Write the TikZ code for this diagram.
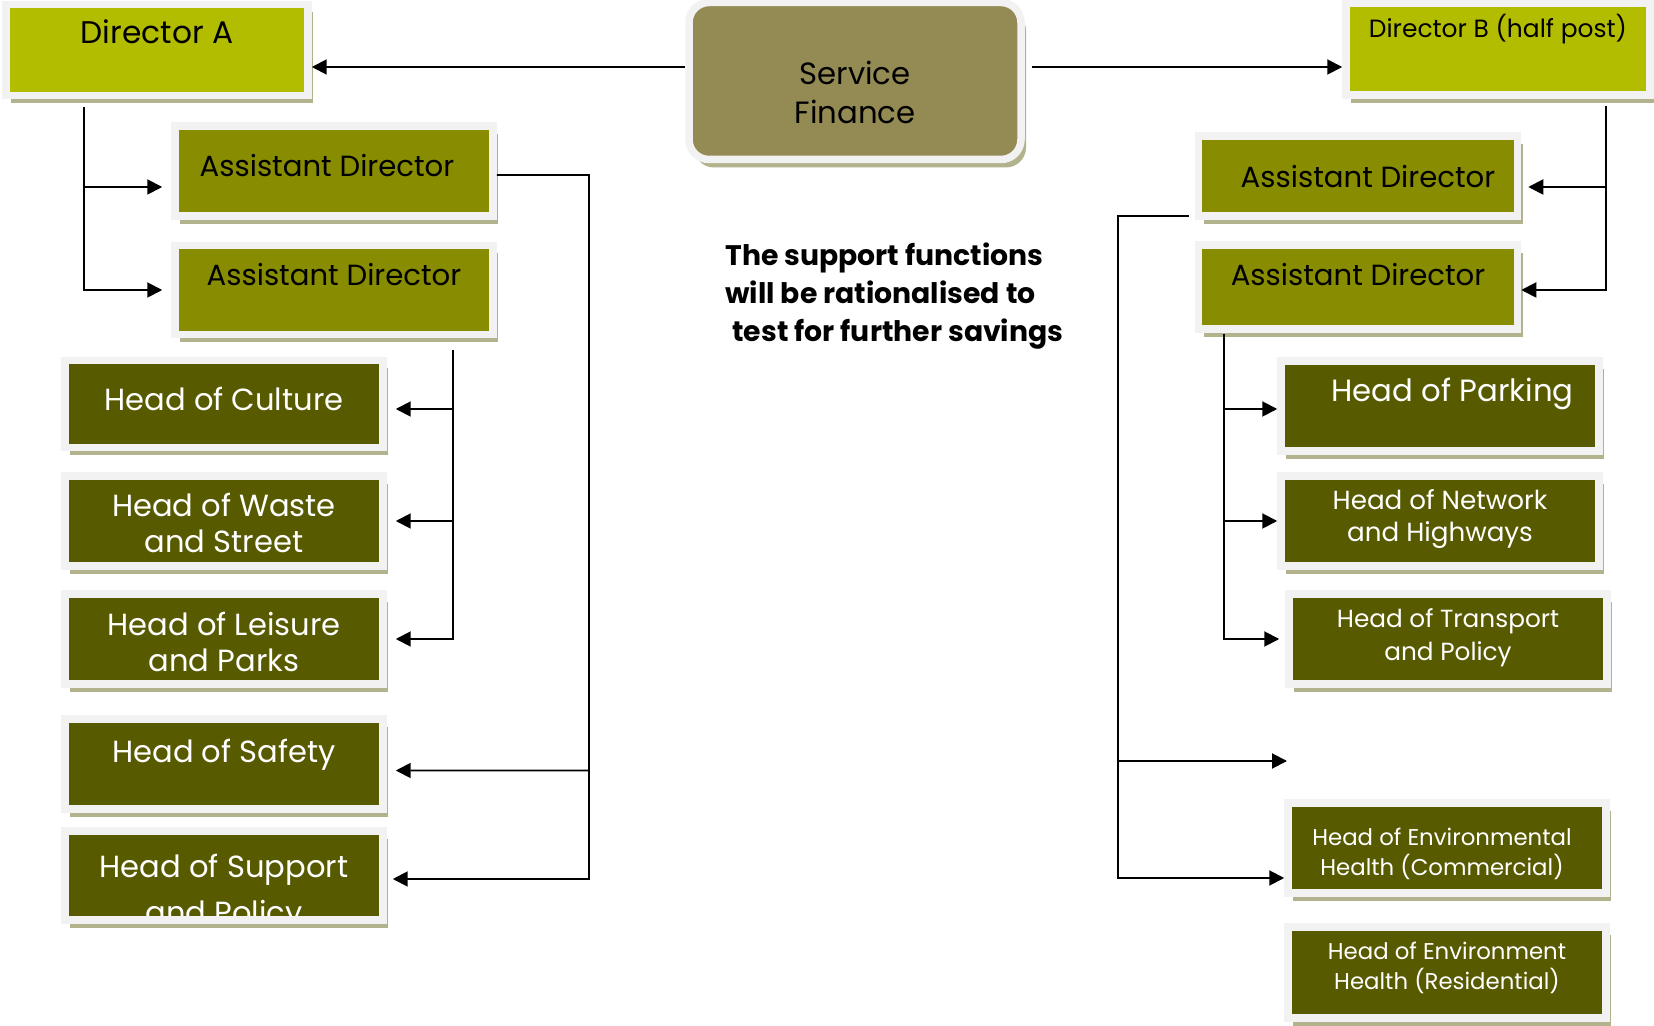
\documentclass[tikz,border=0pt]{standalone}
\usepackage{fontspec}
\setmainfont{Poppins}
\usetikzlibrary{arrows.meta, shadows}
\definecolor{frameGray}{RGB}{242,242,242}
\definecolor{shadowKhaki}{RGB}{178,178,140}
\definecolor{dirGreen}{RGB}{179,189,0}
\definecolor{adOlive}{RGB}{135,140,0}
\definecolor{headOlive}{RGB}{88,90,0}
\definecolor{finBrown}{RGB}{148,138,84}
\newcommand{\boxfont}[2]{\fontsize{#1}{#2}\selectfont}
% text of a box: x offset (doubled), raise of last baseline, lines
\newcommand{\boxtext}[3]{\raisebox{#2}[0pt][0pt]{\makebox[0pt]{\hspace*{#1}\begin{tabular}[b]{@{}c@{}}#3\end{tabular}}}}

\begin{document}
\begin{tikzpicture}[x=0.02cm, y=-0.02cm,
    post/.style={draw=frameGray, line width=0.15cm, inner sep=0pt,
      drop shadow={shadow xshift=0.1cm, shadow yshift=-0.16cm, fill=shadowKhaki, opacity=1}},
    boxsize/.style 2 args={minimum width=#1*0.02cm, minimum height=#2*0.02cm},
    director/.style={post, fill=dirGreen},
    assistant/.style={post, fill=adOlive, font=\boxfont{16.6pt}{21pt}},
    head/.style={post, fill=headOlive, text=white, font=\boxfont{17.4pt}{21pt}},
    envhead/.style={head, font=\boxfont{13pt}{16.9pt}},
    trunk/.style={line width=1.1pt},
    link/.style={trunk, -{Triangle[length=0.3cm, width=0.3cm]}}]
    \useasboundingbox (0,0) rectangle (1654,1026);

    % top row
    \node[director, boxsize={302}{91}, font=\boxfont{17.8pt}{22pt}] (dirA) at (157,50) {\boxtext{0cm}{0.13cm}{Director A}};
    \node[post, fill=finBrown, rounded corners=0.4cm, boxsize={332}{157}, font=\boxfont{17.5pt}{22.2pt}] (fin) at (855,81) {\boxtext{0cm}{-0.86cm}{Service\\Finance}};
    \node[director, boxsize={304}{92}, font=\boxfont{14.2pt}{18pt}] (dirB) at (1498,49) {\boxtext{0cm}{0.23cm}{Director B (half post)}};

    % assistant directors
    \node[assistant, boxsize={318}{90}] (adA1) at (334,171) {\boxtext{-0.28cm}{-0.11cm}{Assistant Director}};
    \node[assistant, boxsize={318}{89}] (adA2) at (334,290) {\boxtext{0cm}{0.08cm}{Assistant Director}};
    \node[assistant, boxsize={319}{80}] (adB1) at (1358,176) {\boxtext{0.4cm}{-0.23cm}{Assistant Director}};
    \node[assistant, boxsize={319}{84}] (adB2) at (1358,287) {\boxtext{0cm}{0.02cm}{Assistant Director}};

    % heads, left
    \node[head, boxsize={318}{87}] (culture) at (224,404) {\boxtext{0cm}{-0.14cm}{Head of Culture}};
    \node[head, boxsize={318}{90}] (waste) at (224,521) {\boxtext{0cm}{-0.64cm}{Head of Waste\\and Street}};
    \node[head, boxsize={318}{90}] (leisure) at (224,639) {\boxtext{0cm}{-0.66cm}{Head of Leisure\\and Parks}};
    \node[head, boxsize={318}{90}] (safety) at (224,764) {\boxtext{0cm}{0.02cm}{Head of Safety}};
    \node[head, boxsize={318}{89},
      path picture={\node[text=white, font=\boxfont{17.4pt}{26.7pt}] (supportText) at (path picture bounding box.center) {\boxtext{0cm}{-0.97cm}{Head of Support\\and Policy}};}] (support) at (224,875.5) {};

    % heads, right
    \node[head, boxsize={318}{90}, font=\boxfont{17.5pt}{21pt}] (parking) at (1440,406) {\boxtext{0.5cm}{0.09cm}{Head of Parking}};
    \node[head, boxsize={318}{90}, font=\boxfont{14.9pt}{18.3pt}] (network) at (1440,521) {\boxtext{0cm}{-0.42cm}{Head of Network\\and Highways}};
    \node[head, boxsize={318}{90}, font=\boxfont{14.1pt}{18.6pt}] (transport) at (1448,639) {\boxtext{0cm}{-0.43cm}{Head of Transport\\and Policy}};
    \node[envhead, boxsize={318}{90}] (envC) at (1447,848) {\boxtext{-0.2cm}{-0.56cm}{Head of Environmental\\Health (Commercial)}};
    \node[envhead, boxsize={318}{91}] (envR) at (1447,972.5) {\boxtext{0cm}{-0.34cm}{Head of Environment\\Health (Residential)}};

    % note
    \node[anchor=base west, inner sep=0pt, font=\boxfont{16.1pt}{21.9pt}\bfseries] (note) at (725,342)
      {\begin{tabular}[b]{@{}l@{}}The support functions\\will be rationalised to\\\hspace*{0.14cm}test for further savings\end{tabular}};

    % junctions
    \coordinate (finL) at ([yshift=0.28cm]fin.west);
    \coordinate (finR) at ([yshift=0.28cm]fin.east);
    \coordinate (jA) at (84,107);
    \coordinate (adA1R) at ([yshift=-0.08cm]adA1.east);
    \coordinate (jB) at (589,175);
    \coordinate (jC) at (453,350);
    \coordinate (jD) at (1606,106);
    \coordinate (adB1L) at ([yshift=-0.8cm,xshift=-0.12cm]adB1.west);
    \coordinate (jE) at (1118,216);
    \coordinate (jF) at (1224,334);
    \coordinate (vacant) at (1287,761);

    % connectors
    \draw[link] (finL) -- (finL -| dirA.east);
    \draw[link, shorten <=0.14cm] (finR) -- (finR -| dirB.west);

    \draw[link, shorten >=0.18cm] (jA) |- ([yshift=-0.32cm]adA1.west);
    \draw[link, shorten >=0.18cm] (jA) |- (adA2.west);

    \draw[link, shorten >=0.18cm] (adA1R) -- (jB) |- ([yshift=-0.13cm]safety.east);
    \draw[link, shorten >=0.12cm] (jB) |- ([yshift=-0.07cm]support.east);

    \draw[link, shorten >=0.18cm] (jC) |- ([yshift=-0.1cm]culture.east);
    \draw[link, shorten >=0.18cm] (jC) |- (waste.east);
    \draw[link, shorten >=0.18cm] (jC) |- (leisure.east);

    \draw[link, shorten >=0.14cm] (jD) |- ([yshift=-0.22cm]adB1.east);
    \draw[link] (jD) |- ([yshift=-0.06cm]adB2.east);

    \draw[link] (adB1L) -- (jE) |- (vacant);
    \draw[link] (jE) |- ([yshift=-0.6cm]envC.west);

    \draw[link] (jF) |- ([yshift=-0.06cm]parking.west);
    \draw[link] (jF) |- (network.west);
    \draw[link, shorten >=0.12cm] (jF) |- (transport.west);
\end{tikzpicture}
\end{document}
